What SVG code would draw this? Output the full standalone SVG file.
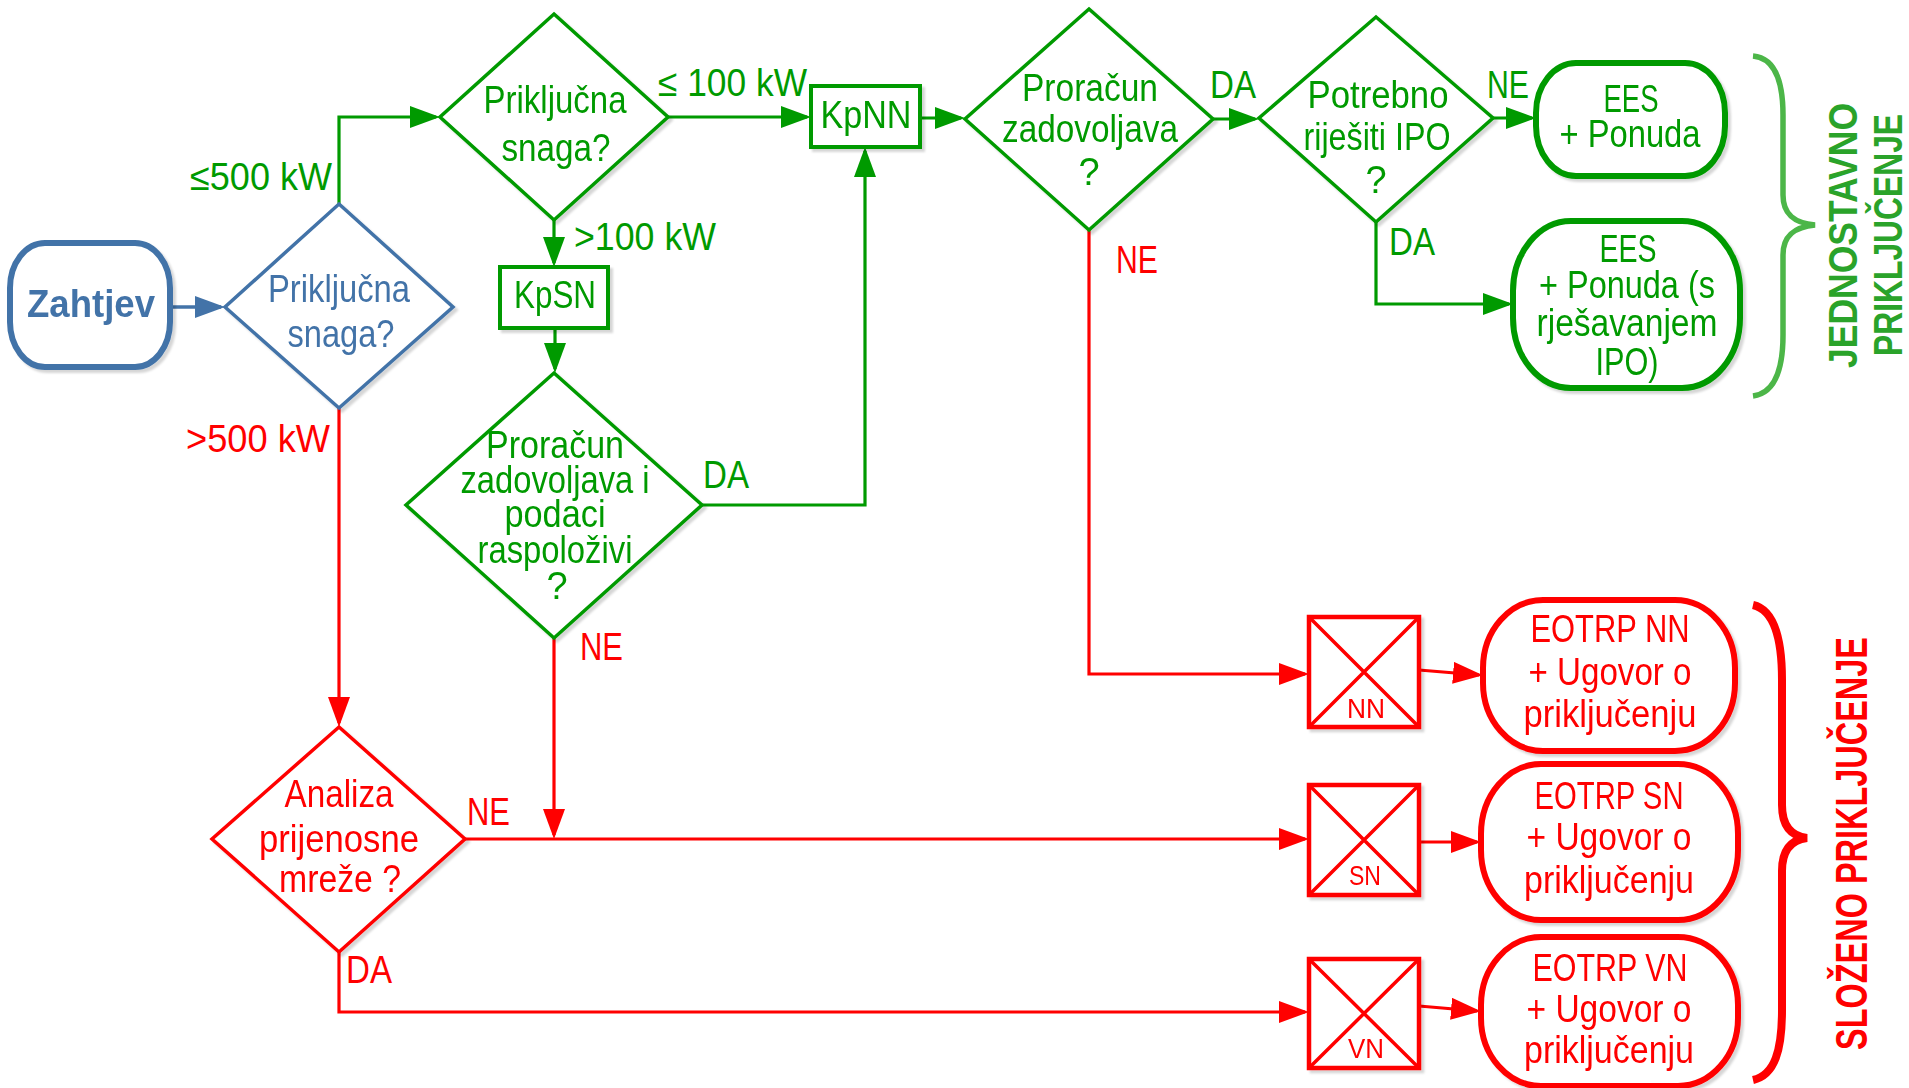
<svg xmlns="http://www.w3.org/2000/svg" width="1909" height="1088" viewBox="0 0 1909 1088">
<defs>
<style>
.t{font-family:"Liberation Sans",Arial,sans-serif;font-size:38px;text-anchor:middle}
.l{font-family:"Liberation Sans",Arial,sans-serif;font-size:38px}
.s{font-family:"Liberation Sans",Arial,sans-serif;font-size:27px;text-anchor:middle}
.b{font-family:"Liberation Sans",Arial,sans-serif;font-weight:bold;text-anchor:middle}
.g{fill:#009A00}.r{fill:#FF0000}.bl{fill:#4373A8}
.dg{fill:#fff;stroke:#009A00;stroke-width:3.5}
.dr{fill:#fff;stroke:#FF0000;stroke-width:3.5}
.db{fill:#fff;stroke:#4373A8;stroke-width:3.5}
.cg{fill:none;stroke:#009A00;stroke-width:3.2;marker-end:url(#ag)}
.cr{fill:none;stroke:#FF0000;stroke-width:3.2;marker-end:url(#ar)}
.cb{fill:none;stroke:#4373A8;stroke-width:3.5;marker-end:url(#ab)}
</style>
<filter id="sh" x="-10%" y="-10%" width="130%" height="130%">
<feDropShadow dx="3" dy="3" stdDeviation="1.2" flood-color="#000" flood-opacity="0.16"/>
</filter>
<marker id="ag" markerUnits="userSpaceOnUse" markerWidth="30" markerHeight="22" refX="26" refY="11" orient="auto"><path d="M0,0 L30,11 L0,22 z" fill="#009A00"/></marker>
<marker id="ar" markerUnits="userSpaceOnUse" markerWidth="30" markerHeight="22" refX="26" refY="11" orient="auto"><path d="M0,0 L30,11 L0,22 z" fill="#FF0000"/></marker>
<marker id="ab" markerUnits="userSpaceOnUse" markerWidth="30" markerHeight="22" refX="26" refY="11" orient="auto"><path d="M0,0 L30,11 L0,22 z" fill="#4373A8"/></marker>
</defs>
<rect width="1909" height="1088" fill="#fff"/>

<g id="connectors">
<path class="cb" d="M170,307 H221"/>
<path class="cg" d="M339,204 V117 H436"/>
<path class="cg" d="M668,117 H807"/>
<path class="cg" d="M554,220 V263"/>
<path class="cg" d="M555,328 V369"/>
<path class="cg" d="M702,505 H865 V151"/>
<path class="cg" d="M920,118 H961"/>
<path class="cg" d="M1213,119 H1255"/>
<path class="cg" d="M1493,118 H1532"/>
<path class="cg" d="M1376,222 V304 H1509"/>
<path class="cr" d="M339,408 V723"/>
<path class="cr" d="M554,638 V835"/>
<path class="cr" d="M465,839 H1305"/>
<path class="cr" d="M1089,230 V674 H1305"/>
<path class="cr" d="M339,952 V1012 H1305"/>
<path class="cr" d="M1419,670 L1479,675"/>
<path class="cr" d="M1419,842 H1477"/>
<path class="cr" d="M1419,1006 L1477,1011"/>
<g id="labels">
<text class="l g" x="190" y="190" textLength="142" lengthAdjust="spacingAndGlyphs">≤500 kW</text>
<text class="l g" x="658" y="96" textLength="149" lengthAdjust="spacingAndGlyphs">≤ 100 kW</text>
<text class="l g" x="574" y="250" textLength="142" lengthAdjust="spacingAndGlyphs">&gt;100 kW</text>
<text class="l r" x="186" y="452" textLength="144" lengthAdjust="spacingAndGlyphs">&gt;500 kW</text>
<text class="l g" x="703" y="488" textLength="46" lengthAdjust="spacingAndGlyphs">DA</text>
<text class="l r" x="580" y="660" textLength="43" lengthAdjust="spacingAndGlyphs">NE</text>
<text class="l g" x="1210" y="98" textLength="46" lengthAdjust="spacingAndGlyphs">DA</text>
<text class="l r" x="1116" y="273" textLength="42" lengthAdjust="spacingAndGlyphs">NE</text>
<text class="l g" x="1487" y="98" textLength="42" lengthAdjust="spacingAndGlyphs">NE</text>
<text class="l g" x="1389" y="255" textLength="46" lengthAdjust="spacingAndGlyphs">DA</text>
<text class="l r" x="467" y="825" textLength="43" lengthAdjust="spacingAndGlyphs">NE</text>
<text class="l r" x="346" y="983" textLength="46" lengthAdjust="spacingAndGlyphs">DA</text>
</g>
</g>

<g id="zahtjev" filter="url(#sh)">
<rect x="10" y="243" width="160" height="124" rx="35" ry="45" fill="#fff" stroke="#4373A8" stroke-width="6"/>
<text class="b bl" x="91" y="317" font-size="38" textLength="128" lengthAdjust="spacingAndGlyphs">Zahtjev</text>
</g>

<g id="snaga1" filter="url(#sh)">
<polygon class="db" points="339,204 453,307 339,408 225,307"/>
<text class="t bl" x="339" y="302" textLength="142" lengthAdjust="spacingAndGlyphs">Priključna</text>
<text class="t bl" x="341" y="347" textLength="107" lengthAdjust="spacingAndGlyphs">snaga?</text>
</g>

<g id="snaga2" filter="url(#sh)">
<polygon class="dg" points="554,14 668,117 554,220 440,117"/>
<text class="t g" x="555" y="113" textLength="143" lengthAdjust="spacingAndGlyphs">Priključna</text>
<text class="t g" x="556" y="161" textLength="109" lengthAdjust="spacingAndGlyphs">snaga?</text>
</g>

<g id="kpsn" filter="url(#sh)">
<rect x="500" y="267" width="108" height="61" fill="#fff" stroke="#009A00" stroke-width="4"/>
<text class="t g" x="555" y="308" textLength="82" lengthAdjust="spacingAndGlyphs">KpSN</text>
</g>

<g id="kpnn" filter="url(#sh)">
<rect x="811" y="86" width="109" height="61" fill="#fff" stroke="#009A00" stroke-width="4"/>
<text class="t g" x="866" y="128" textLength="91" lengthAdjust="spacingAndGlyphs">KpNN</text>
</g>

<g id="proracun2" filter="url(#sh)">
<polygon class="dg" points="554,373 702,505 554,638 406,505"/>
<text class="t g" x="555" y="458" textLength="138" lengthAdjust="spacingAndGlyphs">Proračun</text>
<text class="t g" x="555" y="493" textLength="189" lengthAdjust="spacingAndGlyphs">zadovoljava i</text>
<text class="t g" x="555" y="527" textLength="101" lengthAdjust="spacingAndGlyphs">podaci</text>
<text class="t g" x="555" y="563" textLength="155" lengthAdjust="spacingAndGlyphs">raspoloživi</text>
<text class="t g" x="557" y="599">?</text>
</g>

<g id="proracun1" filter="url(#sh)">
<polygon class="dg" points="1089,9 1213,119 1089,230 965,119"/>
<text class="t g" x="1090" y="101" textLength="136" lengthAdjust="spacingAndGlyphs">Proračun</text>
<text class="t g" x="1090" y="142" textLength="176" lengthAdjust="spacingAndGlyphs">zadovoljava</text>
<text class="t g" x="1089" y="185">?</text>
</g>

<g id="ipo" filter="url(#sh)">
<polygon class="dg" points="1376,17 1493,118 1376,222 1259,118"/>
<text class="t g" x="1378" y="108" textLength="141" lengthAdjust="spacingAndGlyphs">Potrebno</text>
<text class="t g" x="1377" y="150" textLength="147" lengthAdjust="spacingAndGlyphs">riješiti IPO</text>
<text class="t g" x="1376" y="193">?</text>
</g>

<g id="ees1" filter="url(#sh)">
<rect x="1536" y="63" width="189" height="113" rx="40" ry="50" fill="#fff" stroke="#009A00" stroke-width="6"/>
<text class="t g" x="1631" y="112" textLength="55" lengthAdjust="spacingAndGlyphs">EES</text>
<text class="t g" x="1630" y="147" textLength="141" lengthAdjust="spacingAndGlyphs">+ Ponuda</text>
</g>

<g id="ees2" filter="url(#sh)">
<rect x="1513" y="221" width="227" height="167" rx="58" ry="70" fill="#fff" stroke="#009A00" stroke-width="6"/>
<text class="t g" x="1628" y="262" textLength="57" lengthAdjust="spacingAndGlyphs">EES</text>
<text class="t g" x="1627" y="298" textLength="176" lengthAdjust="spacingAndGlyphs">+ Ponuda (s</text>
<text class="t g" x="1627" y="336" textLength="181" lengthAdjust="spacingAndGlyphs">rješavanjem</text>
<text class="t g" x="1627" y="375" textLength="63" lengthAdjust="spacingAndGlyphs">IPO)</text>
</g>

<g id="analiza" filter="url(#sh)">
<polygon class="dr" points="339,727 465,839 339,952 212,839"/>
<text class="t r" x="339" y="807" textLength="109" lengthAdjust="spacingAndGlyphs">Analiza</text>
<text class="t r" x="339" y="852" textLength="160" lengthAdjust="spacingAndGlyphs">prijenosne</text>
<text class="t r" x="340" y="892" textLength="122" lengthAdjust="spacingAndGlyphs">mreže ?</text>
</g>

<g id="box-nn" filter="url(#sh)">
<rect x="1309" y="617" width="110" height="110" fill="#fff" stroke="#FF0000" stroke-width="4.5"/>
<path d="M1309,617 L1419,727 M1419,617 L1309,727" stroke="#FF0000" stroke-width="3.5"/>
<text class="s r" x="1366" y="718" textLength="38" lengthAdjust="spacingAndGlyphs">NN</text>
</g>
<g id="box-sn" filter="url(#sh)">
<rect x="1309" y="785" width="110" height="110" fill="#fff" stroke="#FF0000" stroke-width="4.5"/>
<path d="M1309,785 L1419,895 M1419,785 L1309,895" stroke="#FF0000" stroke-width="3.5"/>
<text class="s r" x="1365" y="885" textLength="32" lengthAdjust="spacingAndGlyphs">SN</text>
</g>
<g id="box-vn" filter="url(#sh)">
<rect x="1309" y="959" width="110" height="109" fill="#fff" stroke="#FF0000" stroke-width="4.5"/>
<path d="M1309,959 L1419,1068 M1419,959 L1309,1068" stroke="#FF0000" stroke-width="3.5"/>
<text class="s r" x="1366" y="1058" textLength="36" lengthAdjust="spacingAndGlyphs">VN</text>
</g>

<g id="eotrp-nn" filter="url(#sh)">
<rect x="1483" y="600" width="252" height="151" rx="60" ry="68" fill="#fff" stroke="#FF0000" stroke-width="6"/>
<text class="t r" x="1610" y="642" textLength="159" lengthAdjust="spacingAndGlyphs">EOTRP NN</text>
<text class="t r" x="1610" y="685" textLength="163" lengthAdjust="spacingAndGlyphs">+ Ugovor o</text>
<text class="t r" x="1610" y="727" textLength="173" lengthAdjust="spacingAndGlyphs">priključenju</text>
</g>
<g id="eotrp-sn" filter="url(#sh)">
<rect x="1481" y="764" width="257" height="156" rx="60" ry="70" fill="#fff" stroke="#FF0000" stroke-width="6"/>
<text class="t r" x="1609" y="809" textLength="149" lengthAdjust="spacingAndGlyphs">EOTRP SN</text>
<text class="t r" x="1609" y="850" textLength="165" lengthAdjust="spacingAndGlyphs">+ Ugovor o</text>
<text class="t r" x="1609" y="893" textLength="170" lengthAdjust="spacingAndGlyphs">priključenju</text>
</g>
<g id="eotrp-vn" filter="url(#sh)">
<rect x="1481" y="937" width="257" height="149" rx="60" ry="68" fill="#fff" stroke="#FF0000" stroke-width="6"/>
<text class="t r" x="1610" y="981" textLength="155" lengthAdjust="spacingAndGlyphs">EOTRP VN</text>
<text class="t r" x="1609" y="1022" textLength="165" lengthAdjust="spacingAndGlyphs">+ Ugovor o</text>
<text class="t r" x="1609" y="1063" textLength="170" lengthAdjust="spacingAndGlyphs">priključenju</text>
</g>

<g id="jednostavno">
<path d="M1753,56 C1775,58 1783,80 1783,115 L1783,195 C1783,215 1795,223 1815,225 C1795,227 1783,235 1783,255 L1783,335 C1783,370 1775,393 1753,396" fill="none" stroke="#4CB648" stroke-width="5.5"/>
<text class="b" fill="#2AA32A" font-size="40" transform="translate(1857,235.5) rotate(-90)" textLength="265" lengthAdjust="spacingAndGlyphs">JEDNOSTAVNO</text>
<text class="b" fill="#2AA32A" font-size="40" transform="translate(1902,235) rotate(-90)" textLength="242" lengthAdjust="spacingAndGlyphs">PRIKLJUČENJE</text>
</g>

<g id="slozeno">
<path d="M1753,605 C1775,610 1782,640 1782,680 L1782,805 C1782,825 1790,836 1807,838 C1790,840 1782,851 1782,871 L1782,1010 C1782,1050 1775,1075 1753,1080" fill="none" stroke="#FF0000" stroke-width="8"/>
<text class="b" fill="#FF0000" font-size="44" transform="translate(1867,843.5) rotate(-90)" textLength="413" lengthAdjust="spacingAndGlyphs">SLOŽENO PRIKLJUČENJE</text>
</g>
</svg>
